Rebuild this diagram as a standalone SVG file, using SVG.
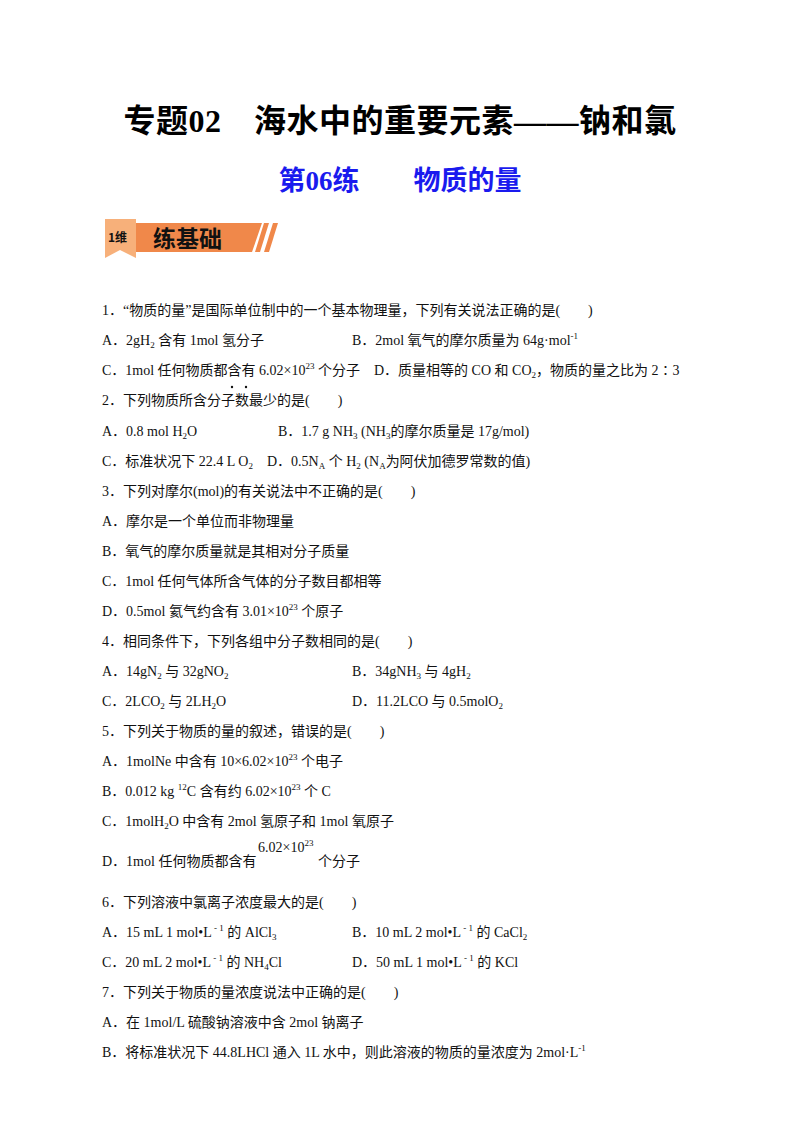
<svg xmlns="http://www.w3.org/2000/svg" width="800" height="1132" viewBox="0 0 800 1132">
<style>
text{font-family:"Liberation Serif","Noto Sans CJK SC",serif;font-size:14px;fill:#111}
.t{font-weight:bold;font-size:32px;fill:#000}
.s{font-weight:bold;font-size:27px;fill:#1a1aee}
.b{font-family:"Noto Sans CJK SC",sans-serif;font-weight:bold}
.sub{font-size:9px}
</style>
<rect width="800" height="1132" fill="#fff"/>
<text class="t" x="400" y="132" text-anchor="middle" letter-spacing="0.5">专题02　海水中的重要元素——钠和氯</text>
<text class="s" x="400" y="190" text-anchor="middle">第06练　　物质的量</text>
<g id="banner">
<polygon points="135,223 262,223 252,252 135,252" fill="#f0884a"/>
<polygon points="105,219 136,219 136,258 120,250 105,258" fill="#f7b07a"/>
<text class="b" x="108" y="242" style="font-size:12px">1维</text>
<text class="b" x="153" y="247" style="font-size:23px">练基础</text>
<polygon points="264,223 269,223 260,252 255,252" fill="#f0884a"/>
<polygon points="273,223 278,223 269,252 264,252" fill="#f0884a"/>
</g>
<text x="102" y="315">1．“物质的量”是国际单位制中的一个基本物理量，下列有关说法正确的是(　　)</text>
<text x="102" y="345">A．2gH<tspan class="sub" dy="3">2</tspan><tspan dy="-3"> 含有 1mol 氢分子</tspan></text>
<text x="352" y="345">B．2mol 氧气的摩尔质量为 64g·mol<tspan class="sub" dy="-6">-1</tspan></text>
<text x="102" y="375">C．1mol 任何物质都含有 6.02×10<tspan class="sub" dy="-6">23</tspan><tspan dy="6"> 个分子</tspan></text>
<text x="374" y="375">D．质量相等的 CO 和 CO<tspan class="sub" dy="3">2</tspan><tspan dy="-3">，物质的量之比为 2∶3</tspan></text>
<text x="102" y="405">2．下列物质所含分子数最少的是(　　)</text>
<circle cx="232" cy="387" r="1.2" fill="#111"/><circle cx="246" cy="387" r="1.2" fill="#111"/>
<text x="102" y="436">A．0.8 mol H<tspan class="sub" dy="3">2</tspan><tspan dy="-3">O</tspan></text>
<text x="278" y="436">B．1.7 g NH<tspan class="sub" dy="3">3</tspan><tspan dy="-3">  (NH</tspan><tspan class="sub" dy="3">3</tspan><tspan dy="-3">的摩尔质量是 17g/mol)</tspan></text>
<text x="102" y="466">C．标准状况下 22.4 L O<tspan class="sub" dy="3">2</tspan><tspan dy="-3">　D．0.5N</tspan><tspan class="sub" dy="3">A</tspan><tspan dy="-3"> 个 H</tspan><tspan class="sub" dy="3">2</tspan><tspan dy="-3">  (N</tspan><tspan class="sub" dy="3">A</tspan><tspan dy="-3">为阿伏加德罗常数的值)</tspan></text>
<text x="102" y="496">3．下列对摩尔(mol)的有关说法中不正确的是(　　)</text>
<text x="102" y="526">A．摩尔是一个单位而非物理量</text>
<text x="102" y="556">B．氧气的摩尔质量就是其相对分子质量</text>
<text x="102" y="586">C．1mol 任何气体所含气体的分子数目都相等</text>
<text x="102" y="616">D．0.5mol 氦气约含有 3.01×10<tspan class="sub" dy="-6">23</tspan><tspan dy="6"> 个原子</tspan></text>
<text x="102" y="646">4．相同条件下，下列各组中分子数相同的是(　　)</text>
<text x="102" y="676">A．14gN<tspan class="sub" dy="3">2</tspan><tspan dy="-3"> 与 32gNO</tspan><tspan class="sub" dy="3">2</tspan></text>
<text x="352" y="676">B．34gNH<tspan class="sub" dy="3">3</tspan><tspan dy="-3"> 与 4gH</tspan><tspan class="sub" dy="3">2</tspan></text>
<text x="102" y="706">C．2LCO<tspan class="sub" dy="3">2</tspan><tspan dy="-3"> 与 2LH</tspan><tspan class="sub" dy="3">2</tspan><tspan dy="-3">O</tspan></text>
<text x="352" y="706">D．11.2LCO 与 0.5molO<tspan class="sub" dy="3">2</tspan></text>
<text x="102" y="736">5．下列关于物质的量的叙述，错误的是(　　)</text>
<text x="102" y="766">A．1molNe 中含有 10×6.02×10<tspan class="sub" dy="-6">23</tspan><tspan dy="6"> 个电子</tspan></text>
<text x="102" y="796">B．0.012 kg  <tspan class="sub" dy="-6">12</tspan><tspan dy="6">C 含有约 6.02×10</tspan><tspan class="sub" dy="-6">23</tspan><tspan dy="6"> 个 C</tspan></text>
<text x="102" y="826">C．1molH<tspan class="sub" dy="3">2</tspan><tspan dy="-3">O 中含有 2mol 氢原子和 1mol 氧原子</tspan></text>
<text x="102" y="866">D．1mol 任何物质都含有</text>
<text x="258" y="852">6.02×10<tspan class="sub" dy="-6">23</tspan></text>
<text x="318" y="866">个分子</text>
<text x="102" y="907">6．下列溶液中氯离子浓度最大的是(　　)</text>
<text x="102" y="937">A．15 mL 1 mol•L<tspan class="sub" dy="-6"> - 1</tspan><tspan dy="6"> 的 AlCl</tspan><tspan class="sub" dy="3">3</tspan></text>
<text x="352" y="937">B．10 mL 2 mol•L<tspan class="sub" dy="-6"> - 1</tspan><tspan dy="6"> 的 CaCl</tspan><tspan class="sub" dy="3">2</tspan></text>
<text x="102" y="967">C．20 mL 2 mol•L<tspan class="sub" dy="-6"> - 1</tspan><tspan dy="6"> 的 NH</tspan><tspan class="sub" dy="3">4</tspan><tspan dy="-3">Cl</tspan></text>
<text x="352" y="967">D．50 mL 1 mol•L<tspan class="sub" dy="-6"> - 1</tspan><tspan dy="6"> 的 KCl</tspan></text>
<text x="102" y="997">7．下列关于物质的量浓度说法中正确的是(　　)</text>
<text x="102" y="1027">A．在 1mol/L 硫酸钠溶液中含 2mol 钠离子</text>
<text x="102" y="1057">B．将标准状况下 44.8LHCl 通入 1L 水中，则此溶液的物质的量浓度为 2mol·L<tspan class="sub" dy="-6">-1</tspan></text>
</svg>
